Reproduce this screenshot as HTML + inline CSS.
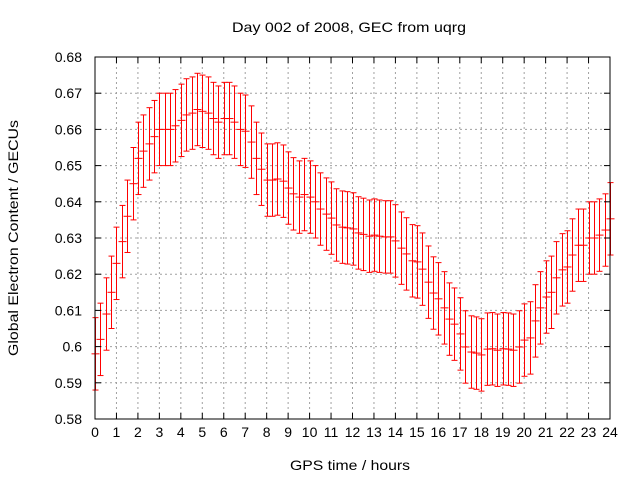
<!DOCTYPE html>
<html><head><meta charset="utf-8"><style>
body{margin:0;background:#fff}
svg{display:block;font-family:"Liberation Sans",sans-serif;font-size:14px}
</style></head><body>
<svg id="c" width="640" height="480">
<text x="349" y="32" text-anchor="middle" textLength="234" lengthAdjust="spacingAndGlyphs">Day 002 of 2008, GEC from uqrg</text>
<text x="350" y="470" text-anchor="middle" textLength="120" lengthAdjust="spacingAndGlyphs">GPS time / hours</text>
<text transform="translate(18,238) rotate(-90)" text-anchor="middle" textLength="236" lengthAdjust="spacingAndGlyphs">Global Electron Content / GECUs</text>
<g id="grid"></g><g id="marks"></g><g id="axes"></g>
</svg>
<script>
const xTicks=[0,1,2,3,4,5,6,7,8,9,10,11,12,13,14,15,16,17,18,19,20,21,22,23,24];
const yTicks=[0.58,0.59,0.60,0.61,0.62,0.63,0.64,0.65,0.66,0.67,0.68];
const yTickLabels=["0.58","0.59","0.6","0.61","0.62","0.63","0.64","0.65","0.66","0.67","0.68"];
const gec=[0.598,0.602,0.609,0.615,0.623,0.629,0.636,0.645,0.652,0.654,0.656,0.658,0.660,0.660,0.660,0.661,0.6625,0.664,0.6645,0.6655,0.665,0.6645,0.663,0.662,0.663,0.663,0.662,0.660,0.6595,0.6565,0.652,0.649,0.646,
0.646,0.6463,0.6457,0.6438,0.6422,0.6413,0.642,0.6413,0.640,0.638,0.6366,0.6355,0.6336,0.633,0.6328,0.6325,0.6314,0.631,0.6305,0.6308,0.6305,0.6303,0.6303,0.6292,0.6272,0.6256,0.6237,0.6234,0.6214,0.6178,0.6148,0.6132,
0.6107,0.6076,0.6062,0.6035,0.5999,0.5985,0.5982,0.5977,0.5993,0.5994,0.599,0.5994,0.5993,0.599,0.5999,0.6018,0.6024,0.6071,0.6107,0.6137,0.615,0.619,0.6212,0.622,0.6253,0.628,0.628,0.630,0.630,0.6308,0.6322,0.6353];
const err=[0.010,0.010,0.010,0.010,0.010,0.010,0.010,0.010,0.010,0.010,0.010,0.010,0.010,0.010,0.010,0.010,0.010,0.010,0.010,0.010,0.010,0.010,0.010,0.010,0.010,0.010,0.010,0.010,0.010,0.010,0.010,0.010,0.010,
0.010,0.010,0.010,0.010,0.010,0.010,0.010,0.010,0.010,0.010,0.010,0.010,0.010,0.010,0.010,0.010,0.010,0.010,0.010,0.010,0.010,0.010,0.010,0.010,0.010,0.010,0.010,0.010,0.010,0.010,0.010,0.010,
0.010,0.010,0.010,0.010,0.010,0.010,0.010,0.010,0.010,0.010,0.010,0.010,0.010,0.010,0.010,0.010,0.010,0.010,0.010,0.010,0.010,0.010,0.010,0.010,0.010,0.010,0.010,0.010,0.010,0.010,0.010,0.010];
const stepHours=0.25;
const L=95,R=610,T=57,B=419;
const X=t=>L+(R-L)*t/24;
const Y=v=>B-(B-T)*(v-0.58)/0.10;
const NS="http://www.w3.org/2000/svg";
function mk(tag,attrs,parent){const e=document.createElementNS(NS,tag);for(const k in attrs)e.setAttribute(k,attrs[k]);parent.appendChild(e);return e;}
const grid=document.getElementById('grid'),marks=document.getElementById('marks'),axes=document.getElementById('axes');
xTicks.forEach((t,i)=>{
  const x=X(t);
  if(t>0&&t<24){const g=mk('line',{x1:x,x2:x,y1:T,y2:B,stroke:'#a0a0a0','stroke-dasharray':'2,3'},grid);
  
  }
  mk('line',{x1:x,x2:x,y1:B,y2:B-6,stroke:'#000'},axes);
  mk('line',{x1:x,x2:x,y1:T,y2:T+6,stroke:'#000'},axes);
  const tx=mk('text',{x:x,y:B+18,'text-anchor':'middle'},axes);tx.textContent=String(t);
  
  
});
yTicks.forEach((v,i)=>{
  const y=Y(v);
  if(i>0&&i<yTicks.length-1){const g=mk('line',{x1:L,x2:R,y1:y,y2:y,stroke:'#a0a0a0','stroke-dasharray':'2,3'},grid);
  
  }
  mk('line',{x1:L,x2:L+6,y1:y,y2:y,stroke:'#000'},axes);
  mk('line',{x1:R,x2:R-6,y1:y,y2:y,stroke:'#000'},axes);
  const tx=mk('text',{x:L-13,y:y+5,'text-anchor':'end'},axes);tx.textContent=yTickLabels[i];
  
  
});
const frame=mk('rect',{x:L,y:T,width:R-L,height:B-T,fill:'none',stroke:'#000'},axes);


gec.forEach((v,i)=>{
  const x=Math.round(X(i*stepHours))+0.5,y1=Y(v-err[i]),y2=Y(v+err[i]),yc=Y(v);
  const g=mk('g',{stroke:'#ff0000','stroke-width':1},marks);
  
  
  mk('line',{x1:x,x2:x,y1:y1,y2:y2},g);
  mk('line',{x1:x-3,x2:x+3,y1:y1,y2:y1},g);
  mk('line',{x1:x-3,x2:x+3,y1:y2,y2:y2},g);
  mk('line',{x1:x-4,x2:x+4,y1:yc,y2:yc},g);
});
</script>
</body></html>
